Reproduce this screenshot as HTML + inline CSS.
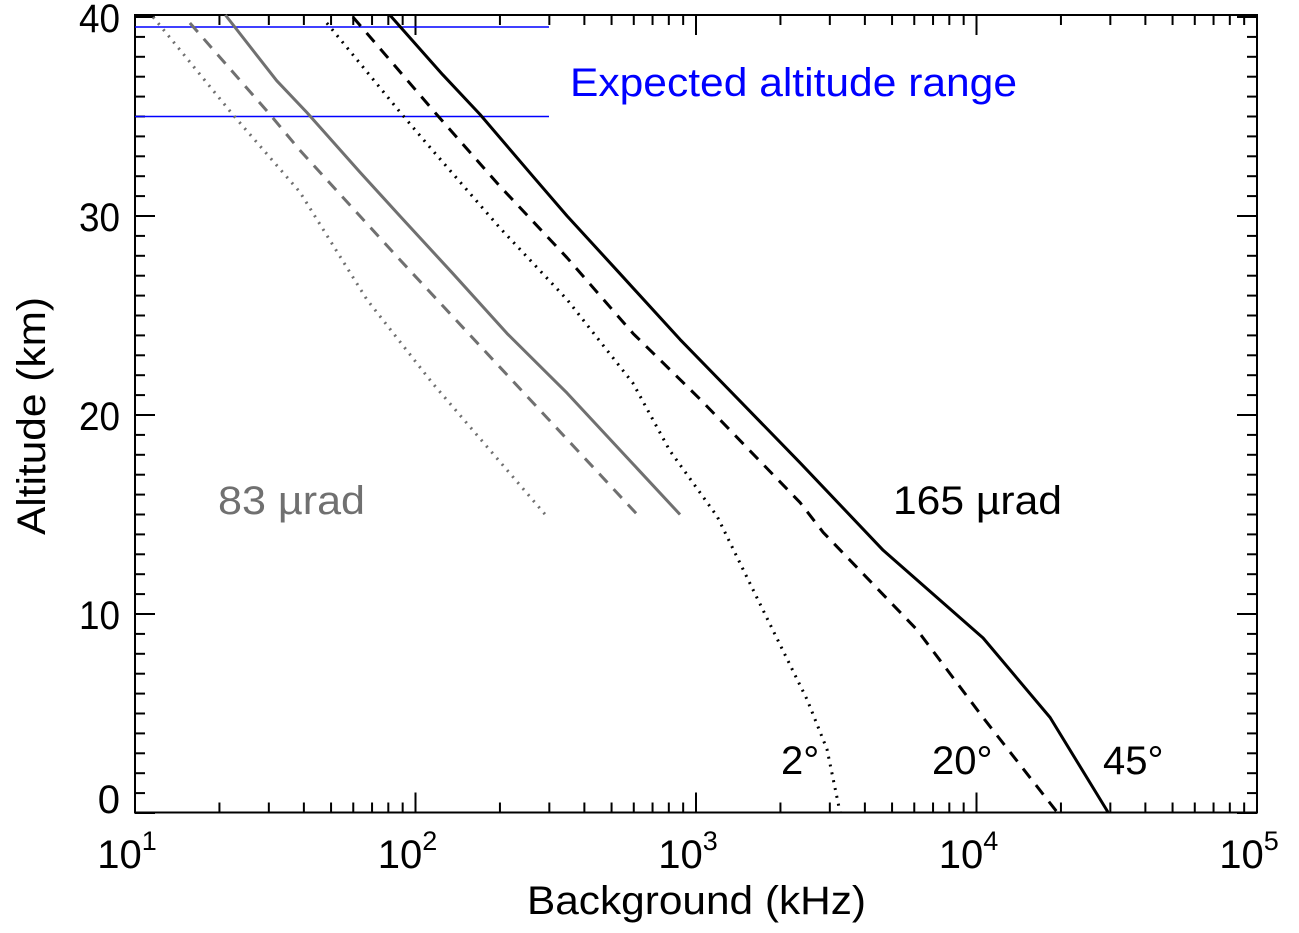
<!DOCTYPE html>
<html><head><meta charset="utf-8"><style>
body{margin:0;background:#fff}
svg{display:block;font-family:"Liberation Sans",sans-serif}
</style></head><body>
<svg id="c" width="1299" height="933" xmlns="http://www.w3.org/2000/svg"></svg>
<script>
const xTicks=[1,2,3,4,5];
const xTickLabels=["1","2","3","4","5"];
const yTicks=[0,10,20,30,40];
const alt45=[40.1,37.1,35.1,32.0,30.0,27.1,23.8,17.6,13.2,8.8,4.8,0];
const bg45=[81,125,170,262,347,536,877,2350,4650,10550,18300,29400];
const alt20=[40.0,35.1,31.5,27.9,24.1,20.8,15.6,14.1,9.2,4.8,0];
const bg20=[59.8,119,200,347,596,1033,2350,2840,6140,10550,19360];
const alt2=[39.7,35.1,33.3,29.4,25.8,21.6,18.2,14.9,9.8,5.7,3.2,0];
const bg2=[48.3,89.5,115,200,347,596,807,1190,1790,2490,2930,3260];
const altGS=[40.1,36.8,35.2,32.2,30.0,27.1,24.1,21.1,15];
const bgGraySolid=[21,32,41,63.4,88,136,212,347,877];
const altGD=[39.7,35.1,33.3,27.8,22.4,15];
const bgGrayDash=[15.7,30.3,38.7,88,200,617];
const altGO=[40,35.1,31.2,25.8,21.6,15];
const bgGrayDot=[11.6,22.3,38.7,67.1,115,290];
const rangeLines=[39.5,35];

const L=135,R=1257,T=15,B=812.5;
const X=v=>L+(Math.log10(v)-1)*(R-L)/4;
const Y=a=>Math.min(813-a*19.9,812);
const svg=document.getElementById('c');
const NS='http://www.w3.org/2000/svg';
function mk(t,at,txt){const e=document.createElementNS(NS,t);for(const k in at)e.setAttribute(k,at[k]);if(txt!==undefined)e.textContent=txt;svg.appendChild(e);return e;}

let e=mk('rect',{x:L,y:T,width:R-L,height:B-T,fill:'none',stroke:'#000','stroke-width':2});


for(let d=1;d<=4;d++){for(let m=1;m<10;m++){const x=X(m*Math.pow(10,d));const len=m==1?20:10;
mk('line',{x1:x,x2:x,y1:B,y2:B-len,stroke:'#000','stroke-width':2});
mk('line',{x1:x,x2:x,y1:T,y2:T+len,stroke:'#000','stroke-width':2});}}
xTicks.forEach((p,i)=>{const x=L+(p-1)*(R-L)/4;
const t=mk('text',{x:x-8,y:868,'font-size':40,'text-anchor':'middle'});


t.innerHTML='10<tspan dy="-18" font-size="27">'+xTickLabels[i]+'</tspan>';});
for(let a=0;a<=40;a++){const y=813-a*19.9;const len=a%10==0?20:10;
mk('line',{x1:L,x2:L+len,y1:y,y2:y,stroke:'#000','stroke-width':2});
mk('line',{x1:R,x2:R-len,y1:y,y2:y,stroke:'#000','stroke-width':2});}
yTicks.forEach(a=>{const y=a==0?813-15:813-a*19.9;
const t=mk('text',{x:120,y:y+15,'font-size':40,'text-anchor':'end',textLength:41,lengthAdjust:'spacingAndGlyphs'},String(a));
if(a==0){t.removeAttribute('textLength');t.removeAttribute('lengthAdjust');}

});
e=mk('text',{x:527,y:914,'font-size':40,textLength:339,lengthAdjust:'spacingAndGlyphs'},'Background (kHz)');


e=mk('text',{x:0,y:0,'font-size':40,'text-anchor':'middle',textLength:238,lengthAdjust:'spacingAndGlyphs',transform:'translate(45,416) rotate(-90)'},'Altitude (km)');


rangeLines.forEach(a=>{const l=mk('line',{x1:L,x2:549,y1:Y(a),y2:Y(a),stroke:'#0000ff','stroke-width':1.5});

});
e=mk('text',{x:570,y:96,'font-size':40,fill:'#0000ff',textLength:447,lengthAdjust:'spacingAndGlyphs'},'Expected altitude range');


function line(alts,bgs,col,dash,name){const d=alts.map((a,i)=>(i?'L':'M')+X(bgs[i]).toFixed(1)+','+Y(a).toFixed(1)).join(' ');
const p=mk('path',{d:d,fill:'none',stroke:col,'stroke-width':3,'stroke-dasharray':dash,'stroke-linejoin':'round'});

}
line(alt45,bg45,'#000','none','line-165-45deg');
line(alt20,bg20,'#000','12 9','line-165-20deg');
line(alt2,bg2,'#000','2 6','line-165-2deg');
line(altGS,bgGraySolid,'#707070','none','line-83-45deg');
line(altGD,bgGrayDash,'#707070','12 9','line-83-20deg');
line(altGO,bgGrayDot,'#707070','2 6','line-83-2deg');
[['165 µrad',893,514,'#000','label-165-urad',169],['83 µrad',218,514,'#707070','label-83-urad',147],['2°',781,774,'#000','label-2deg',0],['20°',932,774,'#000','label-20deg',0],['45°',1103,774,'#000','label-45deg',0]].forEach(l=>{
const at={x:l[1],y:l[2],'font-size':40,fill:l[3]};
if(l[5]){at.textLength=l[5];at.lengthAdjust='spacingAndGlyphs';}
const t=mk('text',at,l[0]);

});
</script>
</body></html>
